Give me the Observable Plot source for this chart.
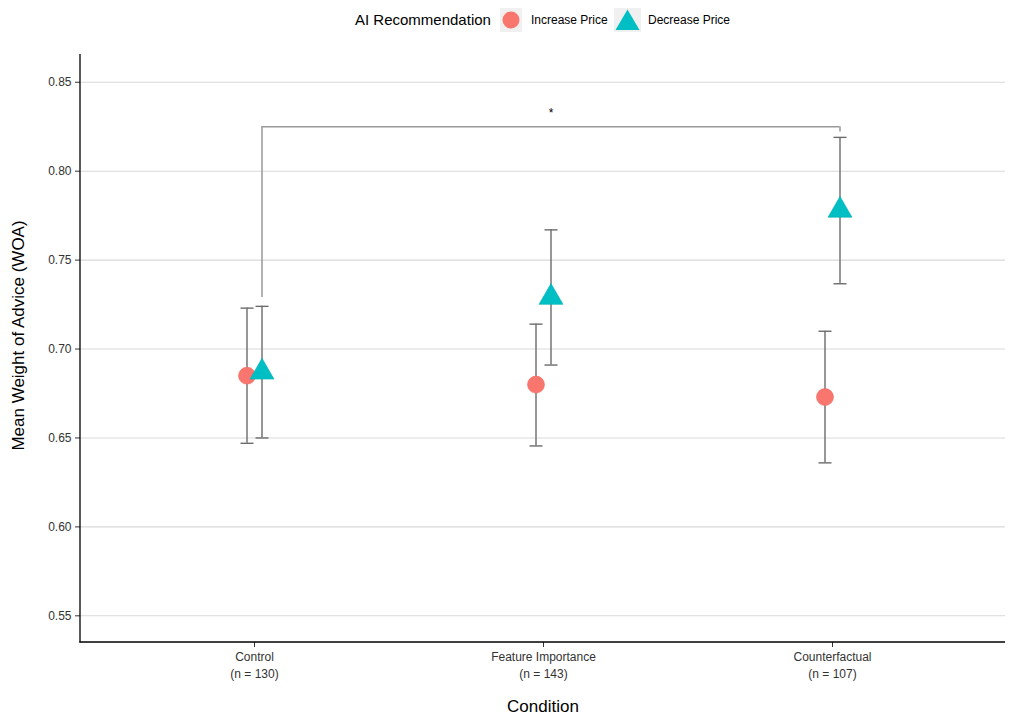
<!DOCTYPE html>
<html>
<head>
<meta charset="utf-8">
<script src="https://cdn.jsdelivr.net/npm/d3@7"></script>
<script src="https://cdn.jsdelivr.net/npm/@observablehq/plot@0.6"></script>
<style>
  html, body { margin: 0; padding: 0; background: #fff; }
  body { width: 1013px; height: 721px; overflow: hidden; font-family: "Liberation Sans", Arial, sans-serif; }
  #legend { position: relative; width: 1013px; height: 40px; color: #000; }
  #legend .t { position: absolute; top: 0; height: 40px; line-height: 40px; white-space: nowrap; }
  #legend svg { position: absolute; }
</style>
</head>
<body>
<div id="legend"></div>
<div id="chart"></div>
<script>
// ---- data ----
const conditions = ["Control", "Feature Importance", "Counterfactual"];
const nLabels = ["(n = 130)", "(n = 143)", "(n = 107)"];
const seriesNames = ["Increase Price", "Decrease Price"];
const legendTitle = "AI Recommendation";

const increaseMean = [0.685, 0.680, 0.673];
const increaseLow  = [0.647, 0.6455, 0.636];
const increaseHigh = [0.723, 0.714, 0.710];

const decreaseMean = [0.687, 0.729, 0.778];
const decreaseLow  = [0.650, 0.691, 0.7367];
const decreaseHigh = [0.724, 0.767, 0.819];

const yTicks = [0.55, 0.60, 0.65, 0.70, 0.75, 0.80, 0.85];
const yDomain = [0.535, 0.8656];

const bracketFrom = "Control";
const bracketTo = "Counterfactual";
const bracketMid = "Feature Importance";
const bracketTop = 0.825;
const bracketLeftEnd = 0.729;
const bracketRightEnd = 0.822;
const starLabel = "*";
const starY = 0.8325;

const yTitle = "Mean Weight of Advice (WOA)";
const xTitle = "Condition";

const colors = ["#F8766D", "#00BFC4"];
const errColor = "#6b6b6b";
const dodge = 7.5;

// ---- tables ----
const inc = conditions.map((c, i) => ({condition: c, mean: increaseMean[i], low: increaseLow[i], high: increaseHigh[i]}));
const dec = conditions.map((c, i) => ({condition: c, mean: decreaseMean[i], low: decreaseLow[i], high: decreaseHigh[i]}));
const legs = [
  {x: bracketFrom, y1: bracketLeftEnd, y2: bracketTop},
  {x: bracketTo, y1: bracketRightEnd, y2: bracketTop}
];
const topBar = [{x1: bracketFrom, x2: bracketTo, y: bracketTop}];

// ---- legend ----
const legend = document.getElementById("legend");
legend.innerHTML = `
  <span class="t" style="left:355px;font-size:15px;">${legendTitle}</span>
  <svg style="left:500px;top:8px" width="22" height="24"><rect width="22" height="24" fill="#F0F0F0"/><circle cx="11" cy="12" r="8.5" fill="${colors[0]}"/></svg>
  <span class="t" style="left:531px;font-size:12px;">${seriesNames[0]}</span>
  <svg style="left:614px;top:8px" width="27" height="24"><rect width="27" height="24" fill="#F0F0F0"/><path d="M13.5,1.5 L25.5,22 L1.5,22 Z" fill="${colors[1]}"/></svg>
  <span class="t" style="left:648px;font-size:12px;">${seriesNames[1]}</span>
`;

// ---- axis lines (left & bottom) ----
function axisLines(index, scales, values, dim) {
  const g = d3.create("svg:g");
  const x0 = dim.marginLeft, x1 = dim.width - dim.marginRight;
  const y0 = dim.marginTop, y1 = dim.height - dim.marginBottom;
  g.append("line").attr("x1", x0).attr("x2", x0).attr("y1", y0).attr("y2", y1 + 0.6)
    .attr("stroke", "#000").attr("stroke-width", 1.3);
  g.append("line").attr("x1", x0 - 0.6).attr("x2", x1).attr("y1", y1).attr("y2", y1)
    .attr("stroke", "#000").attr("stroke-width", 1.3);
  return g.node();
}

// horizontal cap symbol: half-width equals r
const capSymbol = {
  draw(context, size) {
    const w = Math.sqrt(size / Math.PI);
    context.moveTo(-w, 0);
    context.lineTo(w, 0);
  }
};

const errStyle = {stroke: errColor, strokeWidth: 1.4};
const capStyle = {symbol: capSymbol, r: 6.5, fill: "none", stroke: errColor, strokeWidth: 1.4};

const chart = Plot.plot({
  width: 1013,
  height: 681,
  marginTop: 14,
  marginBottom: 79,
  marginLeft: 80,
  marginRight: 8,
  style: {fontFamily: "'Liberation Sans', Arial, sans-serif", background: "#fff"},
  x: {type: "point", domain: conditions, padding: 0.6},
  y: {domain: yDomain},
  marks: [
    Plot.gridY(yTicks, {stroke: "#D9D9D9", strokeOpacity: 1, strokeWidth: 1.1}),
    Plot.axisY({ticks: yTicks, tickFormat: d3.format(".2f"), tickSize: 5, tickPadding: 4, fontSize: 12, color: "#333", label: null}),
    Plot.axisX({tickFormat: d => d + "\n" + nLabels[conditions.indexOf(d)], tickSize: 5, tickPadding: 2, fontSize: 12, lineHeight: 1.38, color: "#333", label: null}),
    axisLines,
    // bracket
    Plot.ruleX(legs, {x: "x", y1: "y1", y2: "y2", dx: dodge, stroke: "#999", strokeWidth: 1.5}),
    Plot.ruleY(topBar, {y: "y", x1: "x1", x2: "x2", dx: dodge, stroke: "#999", strokeWidth: 1.5}),
    Plot.text([starLabel], {x: () => bracketMid, y: () => starY, dx: dodge, fontSize: 12, fill: "#000"}),
    // error bars
    Plot.ruleX(inc, {x: "condition", y1: "low", y2: "high", dx: -dodge, ...errStyle}),
    Plot.dot(inc, {x: "condition", y: "low", dx: -dodge, ...capStyle}),
    Plot.dot(inc, {x: "condition", y: "high", dx: -dodge, ...capStyle}),
    Plot.ruleX(dec, {x: "condition", y1: "low", y2: "high", dx: dodge, ...errStyle}),
    Plot.dot(dec, {x: "condition", y: "low", dx: dodge, ...capStyle}),
    Plot.dot(dec, {x: "condition", y: "high", dx: dodge, ...capStyle}),
    // points
    Plot.dot(inc, {x: "condition", y: "mean", dx: -dodge, r: 8.5, fill: colors[0], stroke: "#EE6C63", strokeWidth: 0.6}),
    Plot.dot(dec, {x: "condition", y: "mean", dx: dodge, r: 8.9, symbol: "triangle", fill: colors[1], stroke: "#00B2B7", strokeWidth: 0.6}),
    // titles
    Plot.text([yTitle], {frameAnchor: "left", textAnchor: "middle", lineAnchor: "middle", rotate: -90, dx: -62, dy: -13, fontSize: 17, fill: "#000"}),
    Plot.text([xTitle], {frameAnchor: "bottom", lineAnchor: "middle", dy: 64, fontSize: 17, fill: "#000"})
  ]
});
document.getElementById("chart").appendChild(chart);
</script>
</body>
</html>
